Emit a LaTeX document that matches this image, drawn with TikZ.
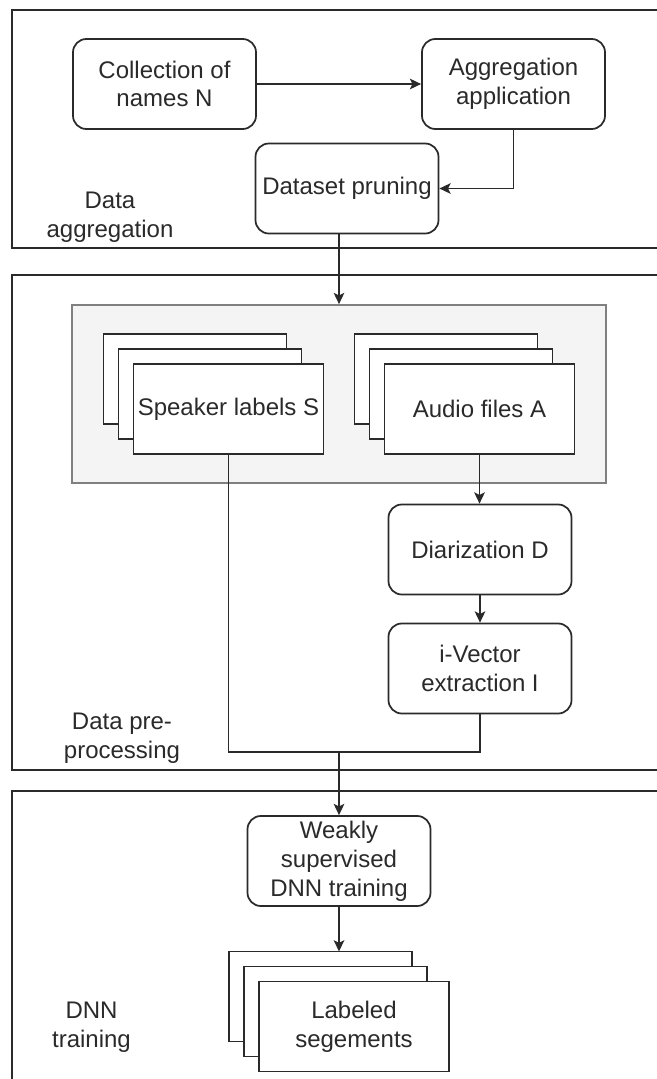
\documentclass[tikz,border=0pt]{standalone}
\usepackage{fontspec}
\setmainfont{Liberation Sans}
\usetikzlibrary{arrows.meta,calc}
\definecolor{ink}{HTML}{2A2A2A}
\definecolor{panelfill}{HTML}{F4F4F4}
\definecolor{panelline}{HTML}{808080}

% A stack of three sheets; the front sheet is the named node,
% (#1-top) is the top centre of the whole stack.
\newcommand\docstack[4]{%
  \draw[sheet] (#2-125,#3-75) rectangle ++(183,90);
  \draw[sheet] (#2-110,#3-60) rectangle ++(183,90);
  \node[frontsheet] (#1) at (#2,#3) {#4};
  \coordinate (#1-top) at (#2-15,#3-75);
}

\begin{document}
\begin{tikzpicture}[x=0.75pt,y=-0.75pt,
  font=\fontsize{18pt}{21.6pt}\selectfont, text=ink,
  frame/.style={draw=ink, line width=1.6pt},
  proc/.style={draw=ink, line width=1.3pt, rounded corners=10pt, fill=white,
    minimum width=137.25pt, minimum height=67.5pt, inner sep=0pt, align=center},
  sheet/.style={draw=ink, line width=1.3pt, fill=white},
  frontsheet/.style={sheet, minimum width=142.5pt, minimum height=67.5pt,
    inner sep=0pt, align=center},
  flow/.style={draw=ink, line width=1.3pt,
    -{Stealth[length=8.5pt,width=8pt,inset=2pt]}},
  wire/.style={draw=ink, line width=1.3pt},
  caption/.style={align=center, inner sep=0pt}
]
\useasboundingbox (0,0) rectangle (657,1079);
\clip (0,0) rectangle (657,1079);

% section frames, open towards the right edge
\draw[frame] (11.7,10) rectangle (720,248);
\draw[frame] (11.7,275) rectangle (720,770);
\draw[frame] (11.7,791) rectangle (720,1120);

% --- data aggregation
\node[proc] (names) at (164.5,84) {Collection of\\names N};
\node[proc] (aggr) at (513.5,84) {Aggregation\\application};
\node[proc] (prune) at (347,188.5) {Dataset pruning};
\node[caption] (lab1) at (110,217) {Data\\aggregation};

% --- data pre-processing
\node[draw=panelline, fill=panelfill, line width=1.3pt, minimum width=400.5pt,
  minimum height=133.5pt, inner sep=0pt] (corpus) at (339,394) {};
\docstack{spk}{228.5}{409}{Speaker labels S}
\docstack{audio}{479.5}{409}{Audio files A}
\node[proc] (diar) at (480,549.5) {Diarization D};
\node[proc] (ivec) at (480,668.5) {i-Vector\\extraction I};
\node[caption] (lab2) at (122,738.5) {Data pre-\\processing};

% --- DNN training
\node[proc] (weak) at (339,861) {Weakly\\supervised\\DNN training};
\docstack{segs}{354}{1026.5}{Labeled\\segements}
\node[caption] (lab3) at (91.5,1027) {DNN\\training};

% connectors
\coordinate (merge) at (339,752);
\draw[flow] (names) -- (aggr);
\draw[flow] (aggr.south) |- (prune.east);
\draw[flow] (prune.south -| corpus.north) -- (corpus.north);
\draw[flow] (audio.south) -- (audio.south |- diar.north);
\draw[flow] (diar) -- (ivec);
\draw[wire] (spk.south) |- (merge) -| (ivec.south);
\draw[flow] (merge) -- (weak.north);
\draw[flow] (weak.south) -- (segs-top);
\end{tikzpicture}
\end{document}
